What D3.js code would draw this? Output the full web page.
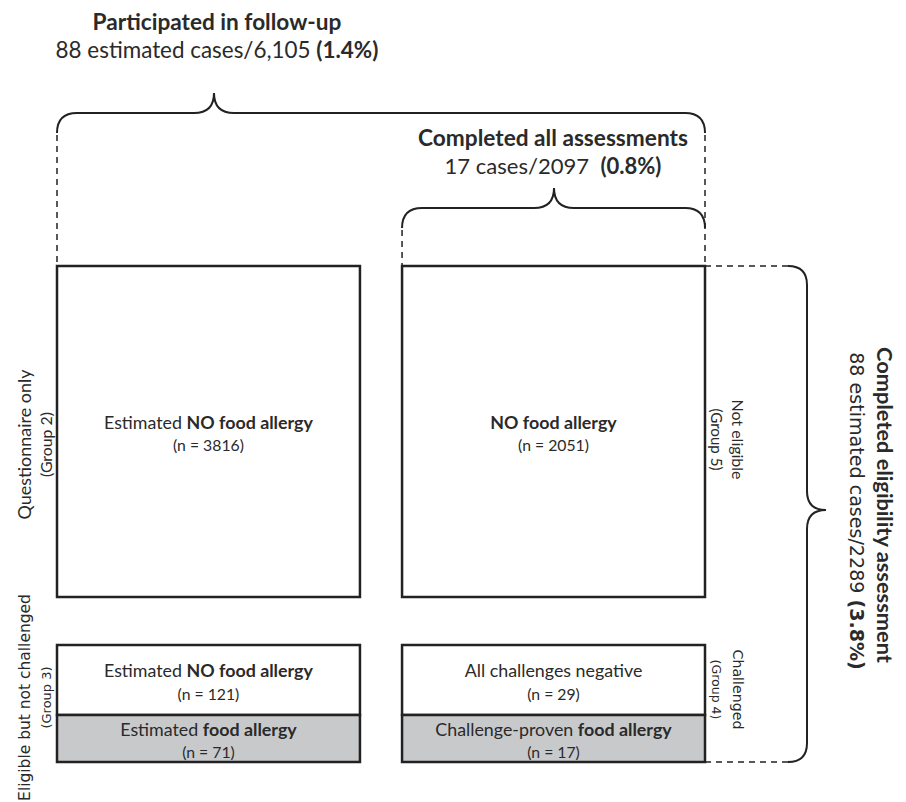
<!DOCTYPE html>
<html>
<head>
<meta charset="utf-8">
<script src="https://cdn.jsdelivr.net/npm/d3@7"></script>
<style>
  body { margin: 0; background: #fff; }
  text { fill: #2a2a2a; white-space: pre; }
</style>
</head>
<body>
<div id="chart"></div>
<script>
// ---- data ----
const columns = ["questionnaire", "assessed"];
const rows = ["main", "upper", "lower"];

// the six cells
const cellColumn = ["questionnaire", "assessed", "questionnaire", "questionnaire", "assessed", "assessed"];
const cellRow = ["main", "main", "upper", "lower", "upper", "lower"];
const cellPrefix = ["Estimated ", "", "Estimated ", "Estimated ", "All challenges negative", "Challenge-proven "];
const cellBold = ["NO food allergy", "NO food allergy", "NO food allergy", "food allergy", "", "food allergy"];
const cellCounts = [3816, 2051, 121, 71, 29, 17];
const cellAllergy = [false, false, false, true, false, true];

// group labels beside the boxes
const groupNames = ["Questionnaire only", "Eligible but not challenged", "Not eligible", "Challenged"];
const groupNumbers = [2, 3, 5, 4];

// summary braces
const summaryTitles = ["Participated in follow-up", "Completed all assessments", "Completed eligibility assessment"];
const summaryCases = [88, 17, 88];
const summaryCaseWord = ["estimated cases", "cases", "estimated cases"];
const summaryTotals = ["6,105", "2097", "2289"];
const summaryPct = ["1.4%", "0.8%", "3.8%"];

const svgWidth = 906;
const svgHeight = 802;

const svg = d3.select("#chart")
  .append("svg")
  .attr("width", svgWidth)
  .attr("height", svgHeight);

const sans = "Lato, 'Open Sans', sans-serif";
const wide = "'DejaVu Sans', Verdana, sans-serif";
const ink = "#222";

// scale a text's font size so it spans the width seen in the figure
function fitWidth(sel, target) {
  const w = sel.node().getComputedTextLength();
  const s = +sel.attr("font-size") * target / w;
  sel.attr("font-size", s);
  return s;
}

// x: two columns of boxes
const x = d3.scaleBand()
  .domain(columns)
  .range([57, 705])
  .paddingInner(0.122);

// y: row top/bottom edges
const y = d3.scaleOrdinal()
  .domain(rows)
  .range([[266, 597], [645, 715], [715, 762]]);

const cells = cellCounts.map((n, i) => ({
  col: cellColumn[i], row: cellRow[i], prefix: cellPrefix[i],
  bold: cellBold[i], n: n, allergy: cellAllergy[i]
}));

// boxes
const cellGroup = svg.append("g");
cellGroup.selectAll("rect")
  .data(cells)
  .join("rect")
  .attr("x", d => x(d.col))
  .attr("y", d => y(d.row)[0])
  .attr("width", x.bandwidth())
  .attr("height", d => y(d.row)[1] - y(d.row)[0])
  .attr("fill", d => d.allergy ? "#c8c9cb" : "#fff")
  .attr("stroke", ink)
  .attr("stroke-width", 2.5);

// cell labels
const cx = d => x(d.col) + x.bandwidth() / 2;
const cy = d => (y(d.row)[0] + y(d.row)[1]) / 2;

const titles = cellGroup.selectAll("text.title")
  .data(cells)
  .join("text")
  .attr("class", "title")
  .attr("x", cx)
  .attr("y", d => cy(d) - 9)
  .attr("dy", "0.35em")
  .attr("text-anchor", "middle")
  .attr("font-family", sans)
  .attr("font-size", 16);
titles.append("tspan").text(d => d.prefix);
titles.append("tspan").attr("font-weight", 700).text(d => d.bold);
titles.attr("font-size", fitWidth(titles.filter((d, i) => i === 0), 209));

const counts = cellGroup.selectAll("text.count")
  .data(cells)
  .join("text")
  .attr("class", "count")
  .attr("x", cx)
  .attr("y", d => cy(d) + 14)
  .attr("dy", "0.35em")
  .attr("text-anchor", "middle")
  .attr("font-family", sans)
  .attr("font-size", 13.5)
  .text(d => `(n = ${d.n})`);
counts.attr("font-size", fitWidth(counts.filter((d, i) => i === 0), 71));

// rotated group labels
function sideLabel(name, num, px, py, rot, font, w1, w2) {
  const off = rot < 0 ? 21 : -22;
  const a = svg.append("text")
    .attr("transform", `translate(${px},${py}) rotate(${rot})`)
    .attr("dy", "0.35em")
    .attr("text-anchor", "middle")
    .attr("font-family", font)
    .attr("font-size", 14)
    .text(name);
  fitWidth(a, w1);
  const b = svg.append("text")
    .attr("transform", `translate(${px + off},${py}) rotate(${rot})`)
    .attr("dy", "0.35em")
    .attr("text-anchor", "middle")
    .attr("font-family", font)
    .attr("font-size", 12)
    .text(`(Group ${num})`);
  fitWidth(b, w2);
}
const mainMid = (y("main")[0] + y("main")[1]) / 2;
const subMid = (y("upper")[0] + y("lower")[1]) / 2;
sideLabel(groupNames[0], groupNumbers[0], 25, mainMid + 13, -90, sans, 150, 65);
sideLabel(groupNames[1], groupNumbers[1], 25, subMid - 6, -90, wide, 207, 62);
sideLabel(groupNames[2], groupNumbers[2], 738, mainMid + 8, 90, sans, 80, 62);
sideLabel(groupNames[3], groupNumbers[3], 738, subMid - 14, 90, wide, 80, 60);

// curly brace drawn flat (ends at y=0, tip up), then placed by transform
function brace(len, tip, depth) {
  const r = depth / 2;
  return `M0,0 Q0,${-r} ${r},${-r} L${tip - r},${-r} Q${tip},${-r} ${tip},${-depth}` +
    ` Q${tip},${-r} ${tip + r},${-r} L${len - r},${-r} Q${len},${-r} ${len},0`;
}

const braceGroup = svg.append("g")
  .attr("fill", "none")
  .attr("stroke", ink)
  .attr("stroke-width", 2);

const dashGroup = svg.append("g")
  .attr("stroke", ink)
  .attr("stroke-width", 1.5)
  .attr("stroke-dasharray", "6,5");

const leftX = x("questionnaire");
const rightX = x("assessed") + x.bandwidth();
const midX = x("assessed");
const boxTop = y("main")[0];
const boxBottom = y("lower")[1];

// brace 1: participated in follow-up
braceGroup.append("path")
  .attr("transform", `translate(${leftX},133)`)
  .attr("d", brace(rightX - leftX, 157, 40));
// brace 2: completed all assessments
braceGroup.append("path")
  .attr("transform", `translate(${midX},228)`)
  .attr("d", brace(rightX - midX, x.bandwidth() / 2 + 0.5, 40));
// brace 3: eligibility assessment (rotated, tip to the right)
braceGroup.append("path")
  .attr("transform", `translate(788,${boxTop}) rotate(90)`)
  .attr("d", brace(boxBottom - boxTop, 244, 38));

dashGroup.append("line").attr("x1", leftX).attr("x2", leftX).attr("y1", 135).attr("y2", boxTop);
dashGroup.append("line").attr("x1", rightX).attr("x2", rightX).attr("y1", 135).attr("y2", boxTop);
dashGroup.append("line").attr("x1", midX).attr("x2", midX).attr("y1", 230).attr("y2", boxTop);
dashGroup.append("line").attr("x1", rightX).attr("x2", 788).attr("y1", boxTop).attr("y2", boxTop);
dashGroup.append("line").attr("x1", rightX).attr("x2", 788).attr("y1", boxBottom).attr("y2", boxBottom);

// summary labels
function summary(i, tx, ty, sep, w1, w2) {
  const a = svg.append("text")
    .attr("x", tx).attr("y", ty)
    .attr("dy", "0.35em")
    .attr("text-anchor", "middle")
    .attr("font-family", sans)
    .attr("font-weight", 700)
    .attr("font-size", 20)
    .text(summaryTitles[i]);
  fitWidth(a, w1);
  const t = svg.append("text")
    .attr("x", tx).attr("y", ty + 28.5)
    .attr("dy", "0.35em")
    .attr("text-anchor", "middle")
    .attr("font-family", sans)
    .attr("font-size", 20);
  t.append("tspan").text(`${summaryCases[i]} ${summaryCaseWord[i]}/${summaryTotals[i]}${sep}`);
  t.append("tspan").attr("font-weight", 700).text(`(${summaryPct[i]})`);
  fitWidth(t, w2);
}
summary(0, 217, 22, " ", 249, 323);
summary(1, 553, 138, "  ", 270, 217);

// rotated summary on the right
const rg = svg.append("g")
  .attr("transform", `translate(870,${(boxTop + boxBottom) / 2 - 9}) rotate(90)`);
const r1 = rg.append("text")
  .attr("y", -15)
  .attr("dy", "0.35em")
  .attr("text-anchor", "middle")
  .attr("font-family", sans)
  .attr("font-weight", 700)
  .attr("font-size", 20)
  .text(summaryTitles[2]);
fitWidth(r1, 316);
const r2 = rg.append("text")
  .attr("x", 6)
  .attr("y", 13)
  .attr("dy", "0.35em")
  .attr("text-anchor", "middle")
  .attr("font-family", wide)
  .attr("font-size", 17);
r2.append("tspan").text(`${summaryCases[2]} ${summaryCaseWord[2]}/${summaryTotals[2]} `);
r2.append("tspan").attr("font-weight", 700).text(`(${summaryPct[2]})`);
fitWidth(r2, 318);
</script>
</body>
</html>
